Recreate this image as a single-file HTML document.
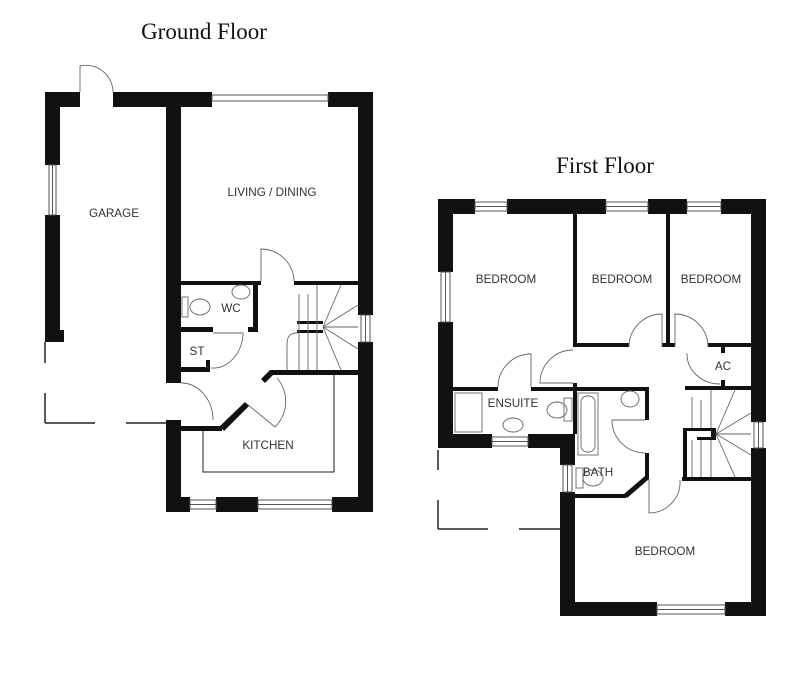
<!DOCTYPE html>
<html><head><meta charset="utf-8"><style>
html,body{margin:0;padding:0;background:#fff;}
svg{display:block}
.t{font-family:"Liberation Sans",sans-serif;font-size:11.7px;fill:#333;text-anchor:middle}
.h{font-family:"Liberation Serif",serif;font-size:23px;fill:#111;text-anchor:middle}
</style></head><body>
<svg width="800" height="680" viewBox="0 0 800 680" xmlns="http://www.w3.org/2000/svg">
<text class="h" x="204" y="39">Ground Floor</text>
<text class="h" x="605" y="173">First Floor</text>

<g fill="#111">
<rect x="45" y="92" width="15" height="73"/>
<rect x="45" y="215" width="15" height="127"/>
<rect x="60" y="330" width="4" height="12"/>
<rect x="45" y="92" width="35" height="15"/>
<rect x="113" y="92" width="99" height="15"/>
<rect x="328" y="92" width="45" height="15"/>
<rect x="166" y="92" width="15" height="291"/>
<rect x="358" y="92" width="15" height="223"/>
<rect x="358" y="342" width="15" height="170"/>
<rect x="166" y="420" width="15" height="92"/>
<rect x="166" y="497" width="24" height="15"/>
<rect x="216" y="497" width="42" height="15"/>
<rect x="332" y="497" width="41" height="15"/>
<rect x="181" y="281" width="80" height="4"/>
<rect x="294" y="281" width="64" height="4"/>
<rect x="253" y="281" width="5" height="50"/>
<rect x="181" y="327" width="32" height="5"/>
<rect x="248" y="327" width="10" height="5"/>
<rect x="181" y="367" width="29" height="5"/>
<rect x="206" y="360" width="4" height="12"/>
<rect x="270" y="370" width="88" height="5"/>
<rect x="181" y="426" width="41" height="5"/>
<polygon points="220,426 245,402 249,406 224,431"/>
<polygon points="270,370 274,374 265,383 261,379"/>
<rect x="297" y="321" width="26" height="3"/>
<rect x="297" y="330" width="26" height="3"/>

<rect x="438" y="199" width="37" height="15"/>
<rect x="507" y="199" width="99" height="15"/>
<rect x="648" y="199" width="39" height="15"/>
<rect x="721" y="199" width="45" height="15"/>
<rect x="438" y="199" width="15" height="73"/>
<rect x="438" y="322" width="15" height="126"/>
<rect x="751" y="199" width="15" height="223"/>
<rect x="751" y="448" width="15" height="168"/>
<rect x="438" y="434" width="54" height="14"/>
<rect x="528" y="434" width="47" height="14"/>
<rect x="560" y="434" width="15" height="31"/>
<rect x="560" y="492" width="15" height="124"/>
<rect x="560" y="602" width="97" height="14"/>
<rect x="725" y="602" width="41" height="14"/>
<rect x="573" y="214" width="4" height="133"/>
<rect x="573" y="383" width="4" height="51"/>
<rect x="666" y="214" width="4" height="133"/>
<rect x="573" y="343" width="56" height="4"/>
<rect x="662" y="343" width="13" height="4"/>
<rect x="708" y="343" width="43" height="4"/>
<rect x="453" y="387" width="45" height="4"/>
<rect x="531" y="387" width="116" height="4"/>
<rect x="645" y="387" width="4" height="33"/>
<rect x="645" y="453" width="4" height="26"/>
<polygon points="645,476 649,479 627,498 624,494"/>
<rect x="575" y="494" width="51" height="4"/>
<rect x="721" y="343" width="4" height="10"/>
<rect x="721" y="380" width="4" height="10"/>
<rect x="685" y="386" width="66" height="4"/>
<rect x="683" y="428" width="4" height="53"/>
<rect x="683" y="428" width="33" height="3"/>
<rect x="697" y="437" width="19" height="3"/>
<rect x="711" y="428" width="5" height="12"/>
<rect x="682" y="477" width="69" height="4"/>
</g>

<g fill="none" stroke="#555" stroke-width="1">
<rect x="49" y="165" width="7" height="50"/><line x1="52.5" y1="165" x2="52.5" y2="215"/>
<rect x="212" y="95" width="116" height="6"/>
<rect x="361" y="315" width="9" height="27"/><line x1="365.5" y1="315" x2="365.5" y2="342"/>
<rect x="190" y="500" width="26" height="9"/><line x1="190" y1="504.5" x2="216" y2="504.5"/>
<rect x="258" y="500" width="74" height="9"/><line x1="258" y1="504.5" x2="332" y2="504.5"/>
<rect x="475" y="202" width="32" height="9"/><line x1="475" y1="206.5" x2="507" y2="206.5"/>
<rect x="606" y="202" width="42" height="9"/><line x1="606" y1="206.5" x2="648" y2="206.5"/>
<rect x="687" y="202" width="34" height="9"/><line x1="687" y1="206.5" x2="721" y2="206.5"/>
<rect x="441" y="272" width="9" height="50"/><line x1="445.5" y1="272" x2="445.5" y2="322"/>
<rect x="754" y="422" width="9" height="26"/><line x1="758.5" y1="422" x2="758.5" y2="448"/>
<rect x="492" y="437" width="36" height="9"/><line x1="492" y1="441.5" x2="528" y2="441.5"/>
<rect x="563" y="465" width="9" height="27"/><line x1="567.5" y1="465" x2="567.5" y2="492"/>
<rect x="657" y="605" width="68" height="9"/><line x1="657" y1="609.5" x2="725" y2="609.5"/>
</g>

<g fill="none" stroke="#222" stroke-width="1.5">
<line x1="45" y1="342" x2="45" y2="363"/>
<line x1="45" y1="393" x2="45" y2="423"/>
<line x1="45" y1="423" x2="95" y2="423"/>
<line x1="126" y1="423" x2="166" y2="423"/>
<line x1="438" y1="450" x2="438" y2="470"/>
<line x1="438" y1="500" x2="438" y2="529"/>
<line x1="438" y1="529" x2="488" y2="529"/>
<line x1="519" y1="529" x2="560" y2="529"/>
<polyline points="203,431 203,472 334,472 334,375" stroke-width="1"/>
</g>

<g fill="none" stroke="#666" stroke-width="0.9">
<path d="M80,92 L80,66 A27,27 0 0 1 113,92"/>
<path d="M261,281 L261,249 A33,33 0 0 1 294,281"/>
<path d="M181,383 L182,383 A32,37 0 0 1 213,420"/>
<path d="M247,404 L275,427 A36,36 0 0 0 277,378"/>
<path d="M213,333 L243,333 L243,335 A30,37 0 0 1 211,368"/>
<line x1="299" y1="294" x2="299" y2="370"/><line x1="308" y1="294" x2="308" y2="370"/><line x1="317" y1="285" x2="317" y2="370"/>
<path d="M297,333 C290,333 287,336 287,345 L287,370"/>
<line x1="323" y1="327" x2="341" y2="285"/><line x1="323" y1="327" x2="358" y2="305"/>
<line x1="323" y1="327" x2="358" y2="327"/><line x1="323" y1="327" x2="358" y2="349"/>
<line x1="323" y1="327" x2="341" y2="370"/>
<ellipse cx="200" cy="307" rx="10" ry="8"/><rect x="182" y="297" width="6" height="20"/>
<ellipse cx="241" cy="292" rx="9" ry="7"/>
<path d="M629,347 A33,33 0 0 1 662,314 L662,347"/>
<path d="M675,347 L675,314 A33,33 0 0 1 708,347"/>
<path d="M573,383 L540,383 A33,33 0 0 1 573,350"/>
<path d="M498,387 A33,33 0 0 1 531,354 L531,387"/>
<path d="M687,353 A33,30 0 0 0 720,384"/>
<path d="M645,420 L612,420 A33,33 0 0 0 645,453"/>
<path d="M649,479 L649,513 A31,31 0 0 0 680,480"/>
<line x1="692" y1="428" x2="692" y2="397"/><line x1="701" y1="428" x2="701" y2="400"/><line x1="711" y1="428" x2="711" y2="390"/>
<line x1="692" y1="440" x2="692" y2="477"/><line x1="701" y1="440" x2="701" y2="477"/><line x1="711" y1="440" x2="711" y2="477"/>
<line x1="716" y1="434" x2="735" y2="390"/><line x1="716" y1="434" x2="751" y2="413"/>
<line x1="716" y1="434" x2="751" y2="434"/><line x1="716" y1="434" x2="751" y2="455"/>
<line x1="716" y1="434" x2="735" y2="477"/>
<rect x="455" y="393" width="27" height="39"/>
<ellipse cx="513" cy="425" rx="10" ry="7"/>
<ellipse cx="557" cy="410" rx="10" ry="8"/><rect x="564" y="398" width="8" height="23"/>
<rect x="578" y="393" width="20" height="62"/><rect x="581" y="396" width="14" height="56" rx="6"/>
<ellipse cx="630" cy="399" rx="9" ry="8"/>
<ellipse cx="593" cy="478" rx="10" ry="8"/><rect x="576" y="468" width="7" height="20"/>
</g>

<g>
<text class="t" x="114" y="217">GARAGE</text>
<text class="t" x="272" y="196">LIVING / DINING</text>
<text class="t" x="231" y="312">WC</text>
<text class="t" x="197" y="355">ST</text>
<text class="t" x="268" y="449">KITCHEN</text>
<text class="t" x="506" y="283">BEDROOM</text>
<text class="t" x="622" y="283">BEDROOM</text>
<text class="t" x="711" y="283">BEDROOM</text>
<text class="t" x="513" y="407">ENSUITE</text>
<text class="t" x="723" y="370">AC</text>
<text class="t" x="598" y="476">BATH</text>
<text class="t" x="665" y="555">BEDROOM</text>
</g>
</svg>
</body></html>
